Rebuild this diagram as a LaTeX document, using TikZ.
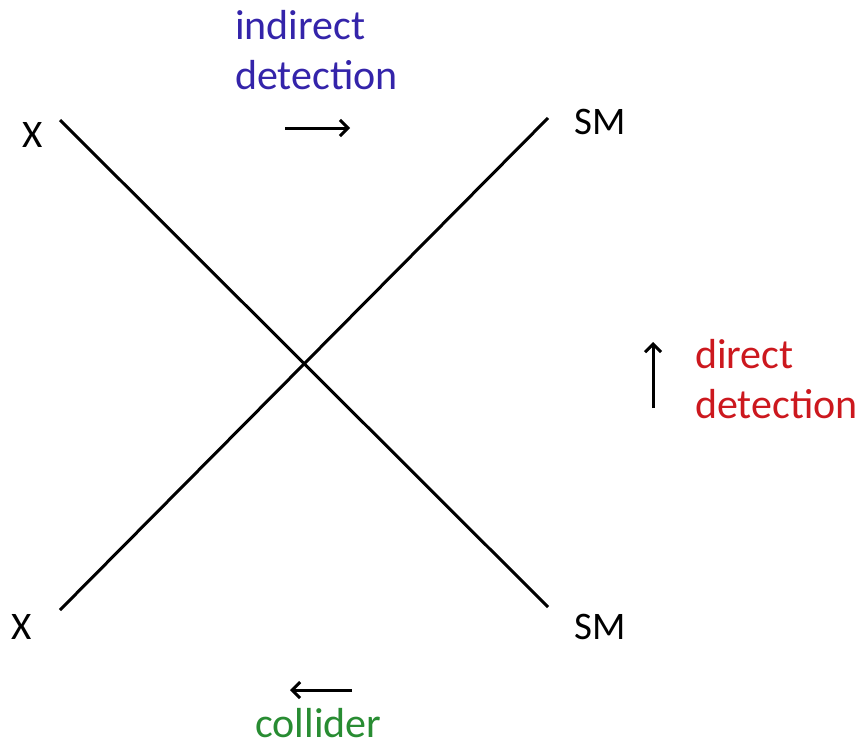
\documentclass[tikz,border=0pt]{standalone}
\usepackage{fontspec}
\setmainfont{Carlito}
\usetikzlibrary{arrows.meta}

\definecolor{indirectblue}{RGB}{52,36,170}
\definecolor{directred}{RGB}{204,24,30}
\definecolor{collgreen}{RGB}{40,140,50}

\begin{document}
\begin{tikzpicture}[
  x=1pt, y=-1pt,
  >={Straight Barb[length=8pt, width=16pt]},
  font=\fontsize{42}{50}\selectfont,
  leg/.style={line width=3pt},
  dir/.style={->, line width=3pt},
  ptcl/.style={inner sep=0pt, font=\fontsize{39}{46}\selectfont},
  lbl/.style={inner sep=0pt, align=left, anchor=west},
]
  \useasboundingbox (0,0) rectangle (860,747);

  % outer particles and the ends of the two legs
  \foreach \name/\x/\y/\txt in {Xa/33/135/X, Xb/22/627/X, SMa/600/122/SM, SMb/600/627/SM}
    \node[ptcl] (\name) at (\x, \y) {\txt};

  \foreach \name/\x/\y in {xa/60/120, xb/60/610, sma/548/118, smb/548/607}
    \coordinate (\name) at (\x, \y);

  \draw[leg] (xa) -- (smb);
  \draw[leg] (xb) -- (sma);

  % processes
  \node[lbl, text=indirectblue] (indir) at (235, 50) {indirect\\detection};
  \node[lbl, text=directred] (dir) at (695, 379) {direct\\detection};
  \node[lbl, text=collgreen] (coll) at (255, 723) {collider};

  \foreach \name/\x/\y in {ia/285/128, ib/350/128, da/653/408, db/653/342, ca/352/690, cb/290/690}
    \coordinate (\name) at (\x, \y);

  \draw[dir] (ia) -- (ib);
  \draw[dir] (da) -- (db);
  \draw[dir] (ca) -- (cb);
\end{tikzpicture}
\end{document}
